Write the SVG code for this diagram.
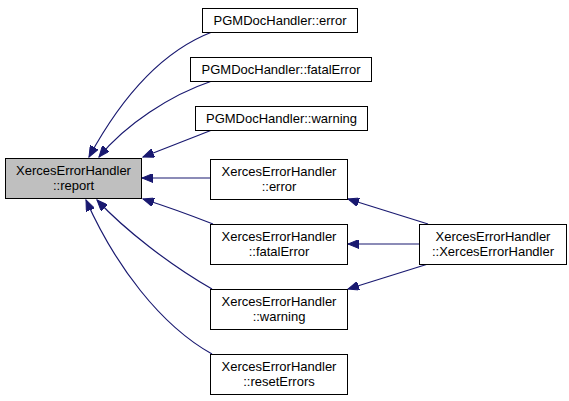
<svg xmlns="http://www.w3.org/2000/svg" width="569" height="401" viewBox="0 0 569 401">
<style>
.n{fill:#fff;stroke:#000;stroke-width:1}
.h{fill:#bfbfbf;stroke:#000;stroke-width:1}
text{font-family:"Liberation Sans",Arial,Helvetica,sans-serif;font-size:13px;fill:#000;text-anchor:middle}
.e{fill:none;stroke:#191970;stroke-width:1.2;marker-end:url(#ah)}
</style>
<defs>
<marker id="ah" markerUnits="userSpaceOnUse" markerWidth="12" markerHeight="9" refX="11" refY="4.5" orient="auto">
<path d="M0,0 L11,4.5 L0,9 z" fill="#191970" stroke="#191970" stroke-width="1"/>
</marker>
</defs>
<rect width="569" height="401" fill="#fff"/>
<g id="connectors">
<path class="e" d="M212,32 C160,52 120,100 89,157"/>
<path class="e" d="M212,81 C170,95 125,125 99,157"/>
<path class="e" d="M212,130 L143,157"/>
<path class="e" d="M210,178 L142,178"/>
<path class="e" d="M213,224 C190,215 165,206 143,199"/>
<path class="e" d="M212,289 C170,265 125,230 97,200"/>
<path class="e" d="M212,354 C160,325 115,265 86,200"/>
<path class="e" d="M428,224 L348,199"/>
<path class="e" d="M419,244 L348,244"/>
<path class="e" d="M428,264 L348,289"/>
</g>
<g id="report">
<rect class="h" x="5.5" y="158.5" width="136" height="40"/>
<text x="73.5" y="175">XercesErrorHandler</text>
<text x="73.5" y="190">::report</text>
</g>
<g id="pgm_error">
<rect class="n" x="202.5" y="8.5" width="155" height="24"/>
<text x="280" y="25">PGMDocHandler::error</text>
</g>
<g id="pgm_fatalError">
<rect class="n" x="190.5" y="57.5" width="181" height="24"/>
<text x="281" y="74">PGMDocHandler::fatalError</text>
</g>
<g id="pgm_warning">
<rect class="n" x="195.5" y="106.5" width="172" height="24"/>
<text x="281.5" y="123">PGMDocHandler::warning</text>
</g>
<g id="xeh_error">
<rect class="n" x="210.5" y="159.5" width="137" height="40"/>
<text x="279" y="176">XercesErrorHandler</text>
<text x="279" y="191">::error</text>
</g>
<g id="xeh_fatalError">
<rect class="n" x="210.5" y="224.5" width="137" height="40"/>
<text x="279" y="241">XercesErrorHandler</text>
<text x="279" y="256">::fatalError</text>
</g>
<g id="xeh_warning">
<rect class="n" x="210.5" y="289.5" width="137" height="40"/>
<text x="279" y="306">XercesErrorHandler</text>
<text x="279" y="321">::warning</text>
</g>
<g id="xeh_resetErrors">
<rect class="n" x="210.5" y="354.5" width="137" height="40"/>
<text x="279" y="371">XercesErrorHandler</text>
<text x="279" y="386">::resetErrors</text>
</g>
<g id="xeh_ctor">
<rect class="n" x="419.5" y="224.5" width="147" height="40"/>
<text x="493" y="241">XercesErrorHandler</text>
<text x="493" y="256">::XercesErrorHandler</text>
</g>
</svg>
